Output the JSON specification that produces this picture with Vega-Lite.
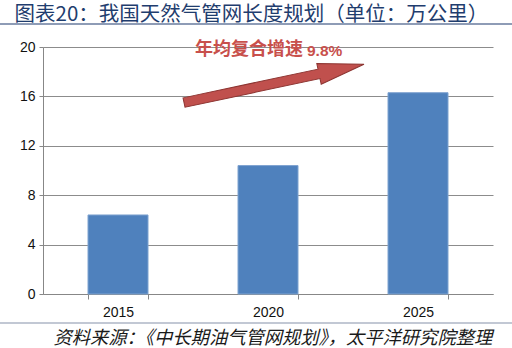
{
"$schema": "https://vega.github.io/schema/vega-lite/v6.json",
"width": 450,
"height": 247,
"autosize": {"type": "none"},
"padding": {"left": 43, "top": 47, "right": 19, "bottom": 54},
"background": "white",
"config": {"view": {"stroke": null}, "font": "Liberation Sans"},
"resolve": {"scale": {"x": "independent"}},
"layer": [
{
"data": {"values": [{"year": "2015", "length": 6.4}, {"year": "2020", "length": 10.4}, {"year": "2025", "length": 16.3}]},
"mark": {"type": "bar", "color": "#4F81BD", "stroke": "#7FA3D0", "strokeWidth": 1},
"encoding": {
"x": {"field": "year", "type": "ordinal", "scale": {"paddingInner": 0.6, "paddingOuter": 0.3},
"axis": {"title": null, "labelAngle": 0, "labelFontSize": 14, "labelColor": "#111", "labelPadding": 6, "domainColor": "#878787", "tickColor": "#878787", "tickSize": 5, "tickBand": "extent", "ticks": true, "grid": false}},
"y": {"field": "length", "type": "quantitative", "scale": {"domain": [0, 20], "nice": false},
"axis": {"title": null, "values": [0, 4, 8, 12, 16, 20], "labelFontSize": 14, "labelColor": "#111", "labelPadding": 4, "domainColor": "#878787", "tickColor": "#878787", "tickSize": 4, "grid": true, "gridColor": "#8C8C8C", "gridOpacity": 1}}
}
},
{
"data": {"values": [{}]},
"mark": {"type": "point", "shape": "M -1 -0.052 L 0.5 -0.052 L 0.5 -0.115 L 1 0 L 0.5 0.115 L 0.5 0.052 L -1 0.052 Z", "size": 33856, "angle": 348, "filled": true, "fill": "#C0504D", "stroke": "#8C3431", "strokeWidth": 1, "opacity": 1},
"encoding": {
"x": {"datum": 1.54, "type": "quantitative", "scale": {"domain": [0, 3]}, "axis": null},
"y": {"datum": 17.05, "type": "quantitative", "scale": {"domain": [0, 20], "nice": false}}
}
},
{
"data": {"values": [{}]},
"mark": {"type": "text", "text": "年均复合增速", "align": "left", "baseline": "middle", "font": "Noto Sans CJK SC", "fontSize": 18, "fontWeight": "bold", "color": "#C8504C"},
"encoding": {
"x": {"datum": 1.013, "type": "quantitative", "scale": {"domain": [0, 3]}, "axis": null},
"y": {"datum": 19.75, "type": "quantitative", "scale": {"domain": [0, 20], "nice": false}}
}
},
{
"data": {"values": [{}]},
"mark": {"type": "text", "text": "9.8%", "align": "left", "baseline": "middle", "font": "Liberation Sans", "fontSize": 15.5, "fontWeight": "bold", "color": "#C8504C"},
"encoding": {
"x": {"datum": 1.76, "type": "quantitative", "scale": {"domain": [0, 3]}, "axis": null},
"y": {"datum": 19.65, "type": "quantitative", "scale": {"domain": [0, 20], "nice": false}}
}
},
{
"data": {"values": [{}]},
"mark": {"type": "text", "text": "图表20：我国天然气管网长度规划（单位：万公里）", "align": "left", "baseline": "middle", "font": "Noto Sans CJK SC", "fontSize": 20.5, "color": "#1F3D6E"},
"encoding": {
"x": {"datum": -0.19, "type": "quantitative", "scale": {"domain": [0, 3]}, "axis": null},
"y": {"datum": 22.58, "type": "quantitative", "scale": {"domain": [0, 20], "nice": false}}
}
},
{
"data": {"values": [{}]},
"mark": {"type": "text", "text": "资料来源：《中长期油气管网规划》，太平洋研究院整理", "align": "left", "baseline": "middle", "font": "Noto Sans CJK SC", "fontSize": 18.3, "fontStyle": "italic", "color": "#1a1a1a"},
"encoding": {
"x": {"datum": 0.07, "type": "quantitative", "scale": {"domain": [0, 3]}, "axis": null},
"y": {"datum": -3.62, "type": "quantitative", "scale": {"domain": [0, 20], "nice": false}}
}
},
{
"data": {"values": [{}]},
"mark": {"type": "rule", "color": "#8E9CB6", "strokeWidth": 2},
"encoding": {
"x": {"datum": -0.29, "type": "quantitative", "scale": {"domain": [0, 3]}, "axis": null},
"x2": {"datum": 3.13},
"y": {"datum": 21.86, "type": "quantitative", "scale": {"domain": [0, 20], "nice": false}}
}
},
{
"data": {"values": [{}]},
"mark": {"type": "rule", "color": "#AEB6C6", "strokeWidth": 1.5},
"encoding": {
"x": {"datum": -0.29, "type": "quantitative", "scale": {"domain": [0, 3]}, "axis": null},
"x2": {"datum": 3.13},
"y": {"datum": -2.35, "type": "quantitative", "scale": {"domain": [0, 20], "nice": false}}
}
}
]
}
